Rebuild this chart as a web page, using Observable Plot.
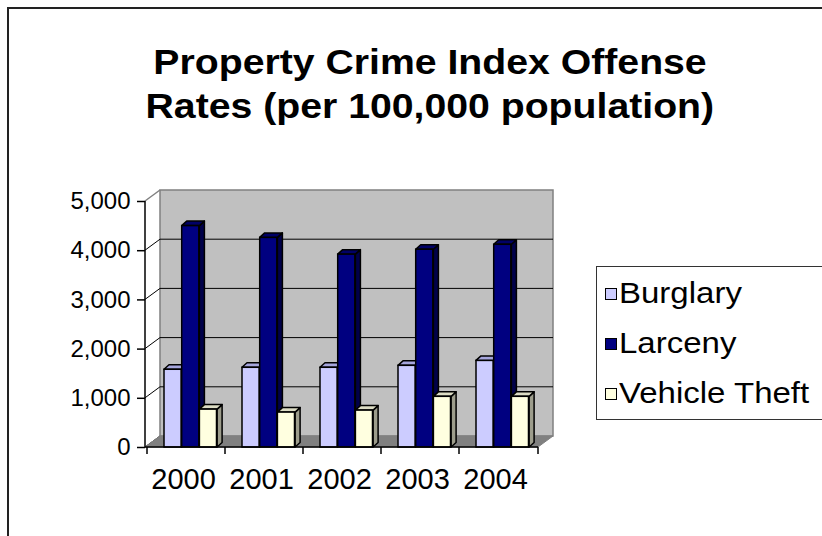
<!DOCTYPE html>
<html><head><meta charset="utf-8">
<script src="https://cdn.jsdelivr.net/npm/d3@7"></script>
<script src="https://cdn.jsdelivr.net/npm/@observablehq/plot@0.6"></script>
<style>
html,body{margin:0;padding:0;background:#fff;}
#chart{position:relative;width:822px;height:536px;overflow:hidden;font-family:"Liberation Sans",Arial,sans-serif;background:#fff;}
#frame{position:absolute;left:7px;top:7px;width:900px;height:600px;border-left:2px solid #222;border-top:2px solid #222;}
.title{position:absolute;left:0;width:860px;text-align:center;font-weight:bold;font-size:35px;line-height:35px;white-space:nowrap;color:#000;}
.title span{display:inline-block;transform:scaleX(1.12);}
#plot{position:absolute;left:0;top:0;}
#legend{position:absolute;left:596px;top:266px;width:260px;height:152px;border:1px solid #333;background:#fff;}
.item{position:absolute;left:0;height:30px;font-size:30px;line-height:30px;white-space:nowrap;color:#000;}
.sw{position:absolute;left:8px;top:10px;width:12px;height:12px;border:1.2px solid #000;box-sizing:border-box;}
.lab{position:absolute;left:22px;top:0;transform:scaleX(1.1);transform-origin:0 50%;}
</style></head>
<body>
<div id="chart">
  <div id="frame"></div>
  <div class="title" style="top:44px"><span>Property Crime Index Offense</span></div>
  <div class="title" style="top:88px"><span>Rates (per 100,000 population)</span></div>
  <div id="plot"></div>
  <div id="legend"></div>
</div>
<script>
const years = ["2000", "2001", "2002", "2003", "2004"];
const seriesNames = ["Burglary", "Larceny", "Vehicle Theft"];
const burglary = [1580, 1620, 1620, 1660, 1760];
const larceny = [4500, 4260, 3920, 4020, 4120];
const vehicleTheft = [770, 710, 750, 1030, 1030];
const yTicks = [0, 1000, 2000, 3000, 4000, 5000];
const frontColors = ["#ccccff", "#000080", "#ffffe0"];
const topColors = ["#a6a6dd", "#000066", "#dcdcc4"];
const sideColors = ["#8c8cbf", "#00004a", "#9d9d8c"];

const seriesValues = [burglary, larceny, vehicleTheft];
const rows = seriesNames.flatMap((s, i) => years.map((yr, j) => ({year: yr, series: s, si: i, value: seriesValues[i][j]})));

// layout constants (pixels)
const W = 822, H = 536, ML = 145, MR = 284, MT = 201, MB = 89;
const DEPTH = [15, -11];      // wall depth offset
const BDEPTH = [5, -4.5];     // bar depth offset
const BAR_W = 17.7, BAR_OFF = 17;
const BW = (W - ML - MR) / years.length;

function walls(index, scales, values, dim) {
  const x0 = dim.marginLeft, x1 = dim.width - dim.marginRight;
  const y = scales.y;
  const [dx, dy] = DEPTH;
  const g = d3.create("svg:g");
  const yb = y(0), yt = y(yTicks[yTicks.length - 1]);
  g.append("rect").attr("x", x0 + dx).attr("y", yt + dy).attr("width", x1 - x0).attr("height", yb - yt)
    .attr("fill", "#c0c0c0").attr("stroke", "#808080").attr("stroke-width", 1.5);
  for (const v of yTicks) {
    const last = v === yTicks[yTicks.length - 1];
    g.append("line").attr("x1", x0).attr("y1", y(v)).attr("x2", x0 + dx).attr("y2", y(v) + dy)
      .attr("stroke", last ? "#808080" : "#000").attr("stroke-width", last ? 1.5 : 1);
  }
  for (const v of yTicks.slice(1, -1)) {
    g.append("line").attr("x1", x0 + dx).attr("x2", x1 + dx).attr("y1", y(v) + dy).attr("y2", y(v) + dy)
      .attr("stroke", "#000").attr("stroke-width", 1);
  }
  g.append("polygon").attr("points", [[x0, yb], [x1, yb], [x1 + dx, yb + dy], [x0 + dx, yb + dy]].join(" "))
    .attr("fill", "#808080").attr("stroke", "#808080").attr("stroke-width", 1);
  const [bx, by] = BDEPTH;
  for (const d of rows) {
    const xl = scales.x(d.year) + BAR_OFF + d.si * BAR_W, xr = xl + BAR_W;
    const yv = y(d.value), y0 = y(0);
    g.append("polygon").attr("points", [[xr, yv], [xr + bx, yv + by], [xr + bx, y0 + by], [xr, y0]].join(" "))
      .attr("fill", sideColors[d.si]).attr("stroke", "#000").attr("stroke-width", 1.5).attr("stroke-linejoin", "round");
    g.append("polygon").attr("points", [[xl, yv], [xl + bx, yv + by], [xr + bx, yv + by], [xr, yv]].join(" "))
      .attr("fill", topColors[d.si]).attr("stroke", "#000").attr("stroke-width", 1.5).attr("stroke-linejoin", "round");
  }
  return g.node();
}

function axesLines(index, scales, values, dim) {
  const x0 = dim.marginLeft, x1 = dim.width - dim.marginRight;
  const y = scales.y;
  const g = d3.create("svg:g").attr("stroke", "#000").attr("stroke-width", 1.5);
  g.append("line").attr("x1", x0).attr("x2", x0).attr("y1", y(0)).attr("y2", y(yTicks[yTicks.length - 1]));
  g.append("line").attr("x1", x0).attr("x2", x1).attr("y1", y(0)).attr("y2", y(0));
  const edges = years.map(yr => scales.x(yr)).concat([x1]);
  for (const e of edges) g.append("line").attr("x1", e).attr("x2", e).attr("y1", y(0)).attr("y2", y(0) + 7);
  return g.node();
}

const barMarks = seriesNames.map((s, i) => Plot.barY(rows.filter(d => d.si === i), {
  x: "year", y: "value", fill: frontColors[i], stroke: "#000", strokeWidth: 1.5,
  insetLeft: BAR_OFF + i * BAR_W, insetRight: BW - BAR_OFF - (i + 1) * BAR_W
}));

const chart = Plot.plot({
  width: W, height: H,
  marginLeft: ML, marginRight: MR, marginTop: MT, marginBottom: MB,
  style: {fontFamily: "Liberation Sans, Arial, sans-serif", background: "transparent", color: "#000", overflow: "visible"},
  x: {type: "band", domain: years, padding: 0},
  y: {domain: [0, 5000]},
  marks: [
    walls,
    ...barMarks,
    axesLines,
    Plot.axisY(yTicks, {tickSize: 8, tickPadding: 7, fontSize: 24, tickFormat: d3.format(","), label: null, stroke: "#000", strokeWidth: 1.5}),
    Plot.axisX({tickSize: 0, tickPadding: 21, fontSize: 29, label: null, dx: -3})
  ]
});
document.getElementById("plot").appendChild(chart);

const legend = d3.select("#legend");
const rowTops = [11, 61, 111];
seriesNames.forEach((s, i) => {
  const it = legend.append("div").attr("class", "item").style("top", rowTops[i] + "px");
  it.append("div").attr("class", "sw").style("background", frontColors[i]);
  it.append("div").attr("class", "lab").text(s);
});
</script>
</body></html>
